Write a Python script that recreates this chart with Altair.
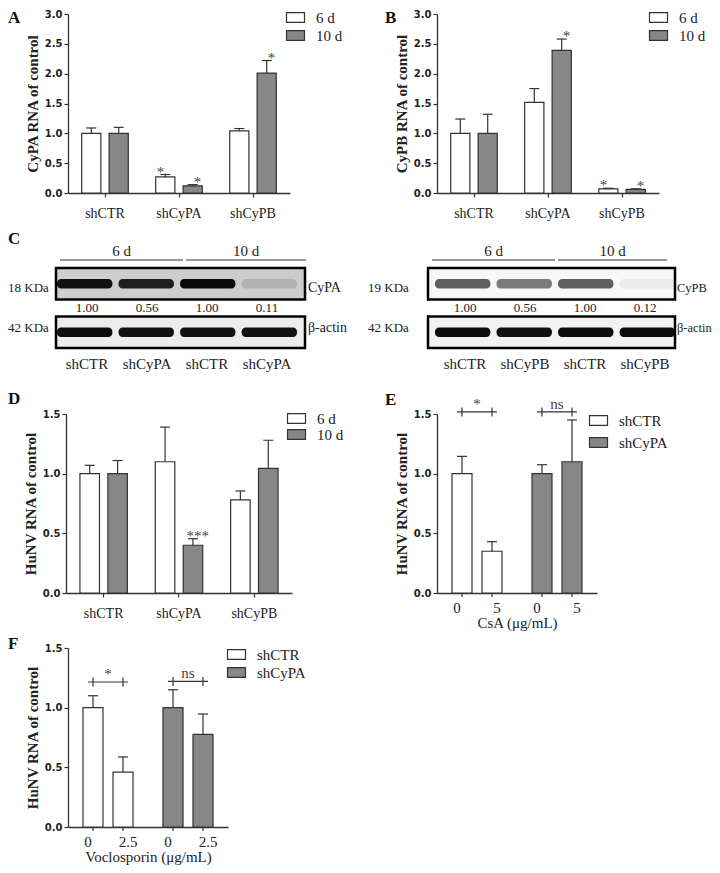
import altair as alt
import pandas as pd

W, H = 704, 857
GRAY = "#878787"
INK = "#333333"
TXT = "#222222"
SERIF = "Liberation Serif"
SANS = "DejaVu Sans"
PATH = "M-1.5,-0.8H1.5V0.8H-1.5Z"

# ---------------- data ----------------
groups = ["shCTR", "shCyPA", "shCyPB"]
days = ["6 d", "10 d"]

a_6d = [1.00, 0.27, 1.04]
a_6d_err = [0.09, 0.04, 0.04]
a_10d = [1.00, 0.12, 2.01]
a_10d_err = [0.10, 0.02, 0.21]
a_sig_6d = ["", "*", ""]
a_sig_10d = ["", "*", "*"]

b_6d = [1.00, 1.52, 0.07]
b_6d_err = [0.24, 0.23, 0.01]
b_10d = [1.00, 2.39, 0.06]
b_10d_err = [0.32, 0.19, 0.01]
b_sig_6d = ["", "", "*"]
b_sig_10d = ["", "*", "*"]

d_6d = [1.00, 1.10, 0.78]
d_6d_err = [0.07, 0.29, 0.075]
d_10d = [1.00, 0.40, 1.045]
d_10d_err = [0.11, 0.055, 0.235]
d_sig_6d = ["", "", ""]
d_sig_10d = ["", "***", ""]

treat_groups = ["shCTR", "shCTR", "shCyPA", "shCyPA"]
shrna = ["shCTR", "shCyPA"]

e_doses = ["0", "5", "0", "5"]
e_dose_domain = ["0", "5"]
e_vals = [1.00, 0.35, 1.00, 1.10]
e_errs = [0.145, 0.08, 0.075, 0.35]
e_br_labels = ["*", "ns"]
e_br_y = [1.517, 1.517]

f_doses = ["0", "2.5", "0", "2.5"]
f_dose_domain = ["0", "2.5"]
f_vals = [1.00, 0.46, 1.00, 0.777]
f_errs = [0.10, 0.127, 0.15, 0.17]
f_br_labels = ["*", "ns"]
f_br_y = [1.215, 1.22]

lane_ids = ["1", "2", "3", "4"]
blot_rows = ["target", "actin"]
cl_lane_labels = ["shCTR", "shCyPA", "shCTR", "shCyPA"]
cl_quant = ["1.00", "0.56", "1.00", "0.11"]
cl_target = [0.92, 0.85, 0.95, 0.13]
cl_actin = [0.95, 0.93, 0.93, 0.93]
cl_kda = ["18 KDa", "42 KDa"]
cl_names = ["CyPA", "β-actin"]

cr_lane_labels = ["shCTR", "shCyPB", "shCTR", "shCyPB"]
cr_quant = ["1.00", "0.56", "1.00", "0.12"]
cr_target = [0.62, 0.5, 0.62, 0.05]
cr_actin = [0.95, 0.93, 0.95, 0.95]
cr_kda = ["19 KDa", "42 KDa"]
cr_names = ["CyPB", "β-actin"]
headers = ["6 d", "10 d"]

one = pd.DataFrame({"k": [0]})


def legend(x, y, pad):
    return alt.Legend(orient="none", legendX=x, legendY=y, title=None,
                      symbolType=PATH, symbolSize=144, symbolStrokeColor=INK,
                      symbolStrokeWidth=1.2, symbolOpacity=1,
                      labelFont=SERIF, labelFontSize=15, labelColor=TXT,
                      labelOffset=13, rowPadding=pad, padding=0)


def y_axis(x_px, values, title):
    return alt.Axis(orient="left", offset=-x_px, values=values, format=".1f",
                    title=title, titleFont=SERIF, titleFontSize=15,
                    titleFontWeight="bold", titlePadding=4, titleColor=TXT,
                    labelFont=SANS, labelFontSize=10, labelFontWeight="bold",
                    labelPadding=2, tickSize=4, labelColor=TXT,
                    domainColor=INK, tickColor=INK, grid=False)


def grouped_panel(v6, e6, v10, e10, s6, s10, xr, yr, ymax, yvals, ytitle,
                  ax_x, ax_y, lx, ly, lpad):
    rows = []
    for g, v, e, s in zip(groups, v6, e6, s6):
        rows.append({"group": g, "series": "6 d", "value": v, "top": v + e, "sig": s})
    for g, v, e, s in zip(groups, v10, e10, s10):
        rows.append({"group": g, "series": "10 d", "value": v, "top": v + e, "sig": s})
    df = pd.DataFrame(rows)
    xs = alt.Scale(domain=groups, range=xr, paddingInner=0, paddingOuter=0)
    xo = alt.Scale(domain=days, paddingInner=0.3, paddingOuter=0.5)
    ys = alt.Scale(domain=[0, ymax], range=yr, nice=False)
    xa = alt.Axis(orient="bottom", offset=ax_y - H, title=None, labelAngle=0,
                  labelFont=SERIF, labelFontSize=14, labelPadding=9, tickSize=4,
                  labelColor=TXT, domainColor=INK, tickColor=INK, grid=False)
    base = alt.Chart(df)
    bars = base.mark_bar(stroke=INK, strokeWidth=1.2).encode(
        x=alt.X("group:N", scale=xs, axis=xa, sort=groups),
        xOffset=alt.XOffset("series:N", scale=xo, sort=days),
        y=alt.Y("value:Q", scale=ys, axis=y_axis(ax_x, yvals, ytitle)),
        fill=alt.Fill("series:N", scale=alt.Scale(domain=days, range=["white", GRAY]),
                      legend=legend(lx, ly, lpad)),
    )
    xe = alt.X("group:N", scale=xs, axis=None)
    xoe = alt.XOffset("series:N", scale=xo)
    err = base.mark_rule(color=INK, strokeWidth=1.2).encode(
        x=xe, xOffset=xoe, y=alt.Y("value:Q", scale=ys, axis=None), y2="top:Q")
    cap = base.mark_tick(orient="horizontal", size=10, thickness=1.2, color=INK, opacity=1).encode(
        x=xe, xOffset=xoe, y=alt.Y("top:Q", scale=ys, axis=None))
    star = base.mark_text(font=SERIF, fontSize=15, color="#444", baseline="alphabetic", dy=2).encode(
        x=xe, xOffset=xoe, y=alt.Y("top:Q", scale=ys, axis=None), text="sig:N")
    return [bars, err, cap, star]


def dose_panel(dose, dose_dom, vals, errs, br_lab, br_y, xr, yr, ax_x, ax_y,
               xtitle, lx, ly, lpad):
    df = pd.DataFrame({"group": treat_groups, "dose": dose, "value": vals,
                       "top": [v + e for v, e in zip(vals, errs)]})
    xs = alt.Scale(domain=shrna, range=xr, paddingInner=0, paddingOuter=0)
    xo = alt.Scale(domain=dose_dom, paddingInner=1 / 3, paddingOuter=0.5)
    ys = alt.Scale(domain=[0, 1.5], range=yr, nice=False)
    xa = alt.Axis(orient="bottom", offset=ax_y - H, labels=False, ticks=False,
                  title=xtitle, titleFont=SERIF, titleFontSize=15,
                  titleFontWeight="normal", titlePadding=22, titleColor=TXT,
                  domainColor=INK, grid=False)
    base = alt.Chart(df)
    bars = base.mark_bar(stroke=INK, strokeWidth=1.2).encode(
        x=alt.X("group:N", scale=xs, axis=xa),
        xOffset=alt.XOffset("dose:N", scale=xo, sort=dose_dom),
        y=alt.Y("value:Q", scale=ys, axis=y_axis(ax_x, [0, 0.5, 1.0, 1.5], "HuNV RNA of control")),
        fill=alt.Fill("group:N", scale=alt.Scale(domain=shrna, range=["white", GRAY]),
                      legend=legend(lx, ly, lpad)),
    )
    xe = alt.X("group:N", scale=xs, axis=None)
    xoe = alt.XOffset("dose:N", scale=xo, sort=dose_dom)
    err = base.mark_rule(color=INK, strokeWidth=1.2).encode(
        x=xe, xOffset=xoe, y=alt.Y("value:Q", scale=ys, axis=None), y2="top:Q")
    cap = base.mark_tick(orient="horizontal", size=10, thickness=1.2, color=INK, opacity=1).encode(
        x=xe, xOffset=xoe, y=alt.Y("top:Q", scale=ys, axis=None))
    dlab = base.mark_text(font=SERIF, fontSize=15, color=TXT, baseline="alphabetic").encode(
        x=xe, xOffset=xoe, y=alt.value(ax_y + 20), text="dose:N")
    ticks = base.mark_rule(color=INK, strokeWidth=1.2).encode(
        x=xe, xOffset=xoe, y=alt.value(ax_y), y2=alt.value(ax_y + 4))
    brows = []
    for g, lab, by in zip(shrna, br_lab, br_y):
        for d in dose_dom:
            brows.append({"group": g, "dose": d, "by": by})
    bdf = pd.DataFrame(brows)
    bline = alt.Chart(bdf).mark_line(color=INK, strokeWidth=1.2).encode(
        x=xe, xOffset=xoe, y=alt.Y("by:Q", scale=ys, axis=None), detail="group:N")
    bend = alt.Chart(bdf).mark_tick(orient="vertical", size=9, thickness=1.2, color=INK, opacity=1).encode(
        x=xe, xOffset=xoe, y=alt.Y("by:Q", scale=ys, axis=None))
    tdf = pd.DataFrame({"group": shrna, "lab": br_lab, "by": br_y})
    btxt = alt.Chart(tdf).mark_text(font=SERIF, fontSize=15, color="#444", baseline="alphabetic", dy=-3).encode(
        x=xe, y=alt.Y("by:Q", scale=ys, axis=None), text="lab:N")
    return [bars, err, cap, dlab, ticks, bline, bend, btxt]


def blot_panel(lane_labels, quant, tint, aint, kda, names, lane_range, fx0, fx1,
               bg, kda_x, name_x, name_size, lines):
    ls = alt.Scale(domain=lane_ids, range=lane_range, paddingInner=0.1, paddingOuter=0)
    rs = alt.Scale(domain=blot_rows, range=[260, 340], paddingInner=0.35, paddingOuter=0)
    xl = alt.X("lane:N", scale=ls, axis=None)
    yr_ = alt.Y("row:N", scale=rs, axis=None)
    fdf = pd.DataFrame({"row": blot_rows, "kda": kda, "name": names})
    frame = alt.Chart(fdf).mark_rect(stroke="black", strokeWidth=2.5).encode(
        y=yr_, x=alt.value(fx0), x2=alt.value(fx1),
        fill=alt.Fill("row:N", scale=alt.Scale(domain=blot_rows, range=bg), legend=None))
    sdf = pd.DataFrame({"lane": lane_ids * 2, "row": ["target"] * 4 + ["actin"] * 4,
                        "intensity": list(tint) + list(aint)})
    stripes = alt.Chart(sdf).mark_rect(height={"band": 0.3}, cornerRadius=4, color="black").encode(
        x=xl, y=yr_, opacity=alt.Opacity("intensity:Q", scale=None))
    ldf = pd.DataFrame({"lane": lane_ids, "label": lane_labels, "quant": quant})
    qtxt = alt.Chart(ldf).mark_text(font=SERIF, fontSize=13, color=TXT, baseline="alphabetic").encode(
        x=xl, y=alt.value(304), text="quant:N")
    ltxt = alt.Chart(ldf).mark_text(font=SERIF, fontSize=15, color=TXT, baseline="alphabetic").encode(
        x=xl, y=alt.value(361), text="label:N")
    ktxt = alt.Chart(fdf).mark_text(font=SERIF, fontSize=13, color=TXT, align="left").encode(
        x=alt.value(kda_x), y=yr_, text="kda:N")
    ntxt = alt.Chart(fdf).mark_text(font=SERIF, fontSize=name_size, color=TXT, align="left").encode(
        x=alt.value(name_x), y=yr_, text="name:N")
    out = [frame, stripes, qtxt, ltxt, ktxt, ntxt]
    for (a, b), h in zip(lines, headers):
        out.append(alt.Chart(one).mark_rule(color=INK, strokeWidth=1.2).encode(
            x=alt.value(a), x2=alt.value(b), y=alt.value(252)))
        out.append(alt.Chart(one).mark_text(font=SERIF, fontSize=15, color=TXT,
                                            baseline="alphabetic").encode(
            x=alt.value((a + b) / 2), y=alt.value(248), text=alt.value(h)))
    return out


def letter(s, x, y):
    return alt.Chart(one).mark_text(font=SERIF, fontSize=17, fontWeight="bold", color="#111",
                                    align="left", baseline="alphabetic").encode(
        x=alt.value(x), y=alt.value(y), text=alt.value(s))


ab_vals = [0, 0.5, 1.0, 1.5, 2.0, 2.5, 3.0]
d_vals = [0, 0.5, 1.0, 1.5]

pA = grouped_panel(a_6d, a_6d_err, a_10d, a_10d_err, a_sig_6d, a_sig_10d,
                   [60, 282], [185, 6], 3.0, ab_vals, "CyPA RNA of control",
                   60, 185, 280, 2, 2)
pB = grouped_panel(b_6d, b_6d_err, b_10d, b_10d_err, b_sig_6d, b_sig_10d,
                   [429, 651], [185, 6], 3.0, ab_vals, "CyPB RNA of control",
                   429, 185, 643, 2, 2)
pD = grouped_panel(d_6d, d_6d_err, d_10d, d_10d_err, d_sig_6d, d_sig_10d,
                   [58, 284], [585, 406], 1.5, d_vals, "HuNV RNA of control",
                   58, 585, 281, 403, 0)
pE = dose_panel(e_doses, e_dose_domain, e_vals, e_errs, e_br_labels, e_br_y,
                [429, 589], [585, 406], 429, 585, "CsA (μg/mL)", 583, 405, 6)
pF = dose_panel(f_doses, f_dose_domain, f_vals, f_errs, f_br_labels, f_br_y,
                [60, 220], [819, 640], 60, 819, "Voclosporin (μg/mL)", 221, 639, 2)
pCL = blot_panel(cl_lane_labels, cl_quant, cl_target, cl_actin, cl_kda, cl_names,
                 [49, 289], 48, 297, ["#cdcdcd", "#ececec"], 0, 300, 14,
                 [(52, 175), (178, 298)])
pCR = blot_panel(cr_lane_labels, cr_quant, cr_target, cr_actin, cr_kda, cr_names,
                 [427, 667], 420, 667, ["#f7f7f7", "#f2f2f2"], 360, 669, 12.5,
                 [(424, 547), (550, 659)])

letters = [letter("A", 0, 15), letter("B", 377, 15), letter("C", 0, 236),
           letter("D", 0, 396), letter("E", 377, 397), letter("F", 0, 641)]

units = pA + pB + pCL + pCR + pD + pE + pF + letters

chart = alt.layer(*units).resolve_scale(
    x="independent", y="independent", xOffset="independent", fill="independent"
).resolve_axis(x="independent", y="independent").resolve_legend(
    fill="independent"
).properties(
    width=W, height=H, autosize=alt.AutoSizeParams(type="none"), padding=0,
    background="white"
).configure_view(stroke=None).configure_axis(
    grid=False, domainColor=INK, tickColor=INK, domainWidth=1.3, tickWidth=1.2
)

chart.save("out.html", embed_options={"renderer": "svg", "actions": False})
